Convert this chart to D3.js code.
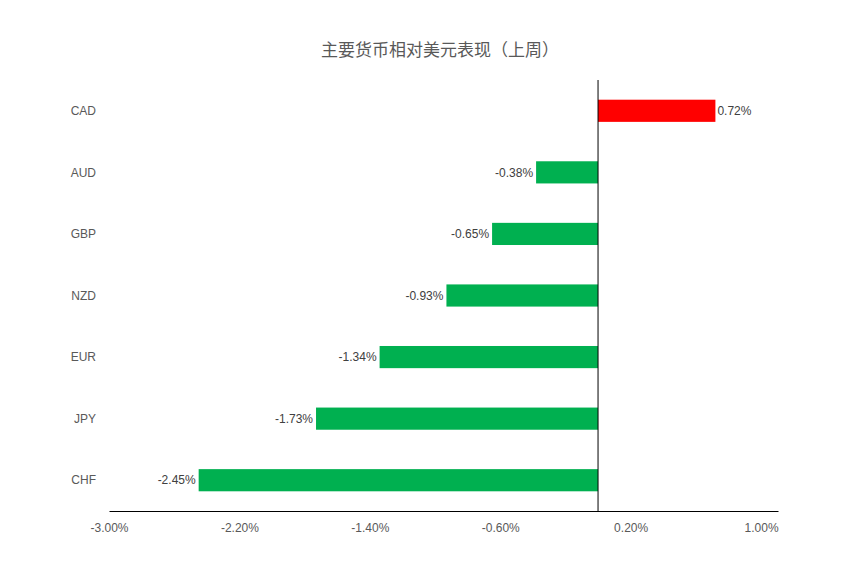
<!DOCTYPE html>
<html><head><meta charset="utf-8">
<script src="https://cdn.jsdelivr.net/npm/d3@7"></script>
<style>body{margin:0;background:#fff;font-family:"Noto Sans CJK SC","Liberation Sans",sans-serif;}</style>
</head><body><div id="chart"></div>
<script>
// currencies vs USD, last week
let currencies = ["CAD", "AUD", "GBP", "NZD", "EUR", "JPY", "CHF"];
let changes = [0.72, -0.38, -0.65, -0.93, -1.34, -1.73, -2.45];
let tickValues = [-3.0, -2.2, -1.4, -0.6, 0.2, 1.0];

let width = 858, height = 580;
let svg = d3.select("#chart").append("svg")
    .attr("width", width).attr("height", height);

let x = d3.scaleLinear().domain([-3, 1.104]).range([109, 778]);
let y = d3.scaleBand().domain(currencies).range([80, 511]).paddingInner(0.64).paddingOuter(0.32);

svg.append("text")
    .attr("x", 440).attr("y", 56)
    .attr("text-anchor", "middle")
    .style("font-size", "17px").style("fill", "#595959")
    .text("主要货币相对美元表现（上周）");

// bars
let data = currencies.map((c, i) => ({name: c, value: changes[i]}));
svg.selectAll(".bar").data(data).enter().append("rect")
    .attr("class", "bar")
    .attr("x", d => x(Math.min(0, d.value)))
    .attr("width", d => Math.abs(x(d.value) - x(0)))
    .attr("y", d => y(d.name))
    .attr("height", y.bandwidth())
    .style("fill", d => d.value > 0 ? "#ff0000" : "#00b050");

// value labels
svg.selectAll(".val").data(data).enter().append("text")
    .attr("x", d => d.value > 0 ? x(d.value) + 2 : x(d.value) - 3)
    .attr("y", d => y(d.name) + y.bandwidth() / 2)
    .attr("dy", "0.35em")
    .attr("text-anchor", d => d.value > 0 ? "start" : "end")
    .style("font-size", "12px").style("fill", "#404040")
    .style("font-family", "Liberation Sans, sans-serif")
    .text(d => d.value.toFixed(2) + "%");

// category labels
svg.selectAll(".cat").data(currencies).enter().append("text")
    .attr("x", 96)
    .attr("y", d => y(d) + y.bandwidth() / 2)
    .attr("dy", "0.35em")
    .attr("text-anchor", "end")
    .style("font-size", "12px").style("fill", "#595959")
    .style("font-family", "Liberation Sans, sans-serif")
    .text(d => d);

// zero line
svg.append("line")
    .attr("x1", x(0)).attr("x2", x(0)).attr("y1", 80).attr("y2", 511)
    .style("stroke", "#000").style("stroke-width", 1);

// bottom axis
let xAxis = svg.append("g")
    .attr("transform", "translate(0,511)")
    .call(d3.axisBottom(x).tickValues(tickValues).tickSize(0).tickPadding(12)
        .tickFormat(d => d.toFixed(2) + "%"));
xAxis.select(".domain").style("stroke", "#000");
xAxis.selectAll("text").style("font-size", "12px").style("fill", "#595959")
    .style("font-family", "Liberation Sans, sans-serif");
</script></body></html>
